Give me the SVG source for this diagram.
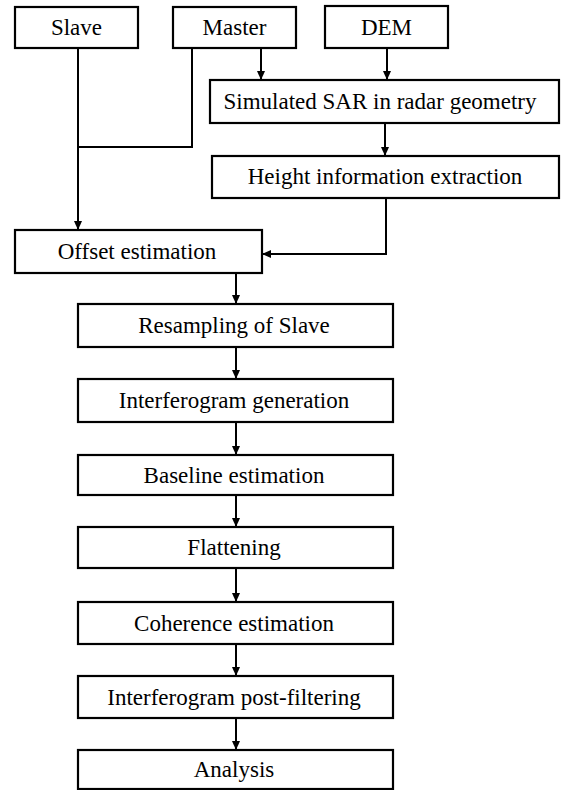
<svg xmlns="http://www.w3.org/2000/svg" width="562" height="790" viewBox="0 0 562 790">
<style>
.box{fill:#fff;stroke:#000;stroke-width:2.2}
.lbl{font-family:'Liberation Serif','DejaVu Serif',serif;font-size:23px;fill:#000;text-anchor:middle}
.ln{fill:none;stroke:#000;stroke-width:2}
</style>
<defs>
<marker id="ah" markerUnits="userSpaceOnUse" markerWidth="10" markerHeight="8" refX="9" refY="4" orient="auto">
<path d="M0,0 L9,4 L0,8 Z" fill="#000"/>
</marker>
</defs>
<rect width="562" height="790" fill="#fff"/>
<g id="connectors">
<path class="ln" d="M78,48 V230" marker-end="url(#ah)"/>
<path class="ln" d="M192,48 V147 H78"/>
<path class="ln" d="M261,48 V80" marker-end="url(#ah)"/>
<path class="ln" d="M387,48 V80" marker-end="url(#ah)"/>
<path class="ln" d="M385,123 V156" marker-end="url(#ah)"/>
<path class="ln" d="M386,198 V254 H262" marker-end="url(#ah)"/>
<path class="ln" d="M236,273 V304" marker-end="url(#ah)"/>
<path class="ln" d="M236,347 V379" marker-end="url(#ah)"/>
<path class="ln" d="M236,422 V455" marker-end="url(#ah)"/>
<path class="ln" d="M236,495 V527" marker-end="url(#ah)"/>
<path class="ln" d="M236,568 V602" marker-end="url(#ah)"/>
<path class="ln" d="M236,644 V676" marker-end="url(#ah)"/>
<path class="ln" d="M236,718 V750" marker-end="url(#ah)"/>
</g>
<g id="slave"><rect class="box" x="15" y="7" width="123" height="41"/><text class="lbl" x="76.5" y="35">Slave</text></g>
<g id="master"><rect class="box" x="173" y="7" width="123" height="41"/><text class="lbl" x="234.5" y="35">Master</text></g>
<g id="dem"><rect class="box" x="325" y="6" width="123" height="42"/><text class="lbl" x="386.5" y="35">DEM</text></g>
<g id="simsar"><rect class="box" x="210" y="80" width="349" height="43"/><text class="lbl" x="380" y="109">Simulated SAR in radar geometry</text></g>
<g id="height"><rect class="box" x="212" y="156" width="347" height="42"/><text class="lbl" x="385" y="184">Height information extraction</text></g>
<g id="offset"><rect class="box" x="15" y="230" width="247" height="43"/><text class="lbl" x="137" y="259">Offset estimation</text></g>
<g id="resampling"><rect class="box" x="78" y="304" width="315" height="43"/><text class="lbl" x="234" y="333">Resampling of Slave</text></g>
<g id="interferogram"><rect class="box" x="78" y="379" width="315" height="43"/><text class="lbl" x="234" y="408">Interferogram generation</text></g>
<g id="baseline"><rect class="box" x="78" y="455" width="315" height="40"/><text class="lbl" x="234" y="483">Baseline estimation</text></g>
<g id="flattening"><rect class="box" x="78" y="527" width="315" height="41"/><text class="lbl" x="234" y="555">Flattening</text></g>
<g id="coherence"><rect class="box" x="78" y="602" width="315" height="42"/><text class="lbl" x="234" y="631">Coherence estimation</text></g>
<g id="postfilter"><rect class="box" x="78" y="676" width="315" height="42"/><text class="lbl" x="234" y="705">Interferogram post-filtering</text></g>
<g id="analysis"><rect class="box" x="78" y="750" width="315" height="39"/><text class="lbl" x="234" y="777">Analysis</text></g>
</svg>
